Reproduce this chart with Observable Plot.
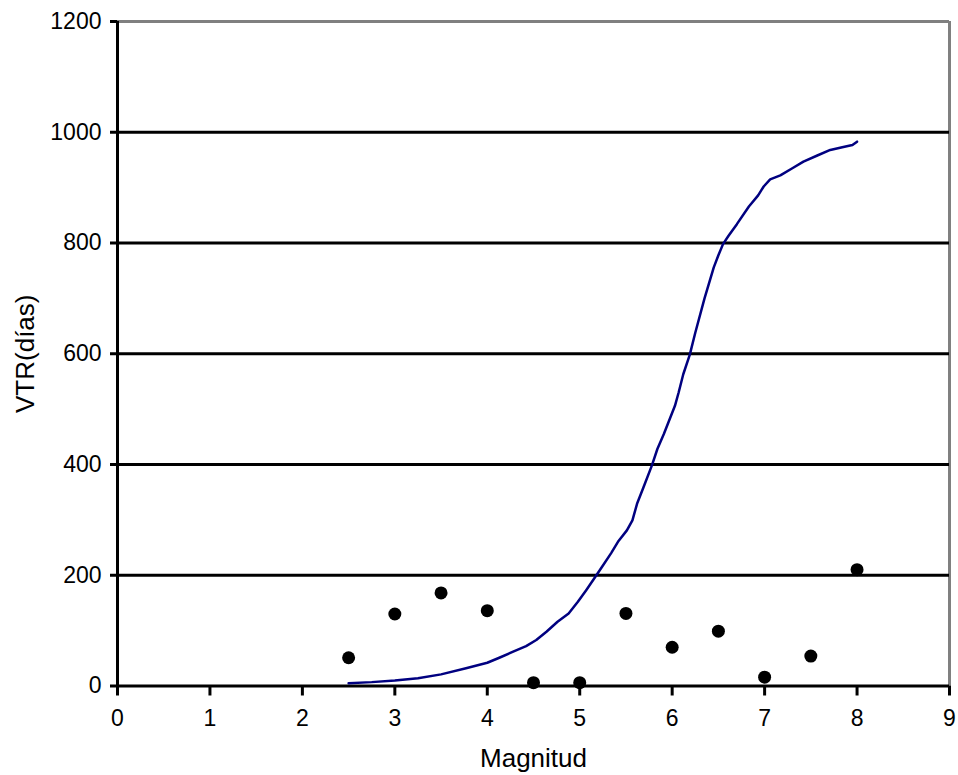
<!DOCTYPE html>
<html>
<head>
<meta charset="utf-8">
<script src="https://cdn.jsdelivr.net/npm/d3@7"></script>
<script src="https://cdn.jsdelivr.net/npm/@observablehq/plot@0.6"></script>
<style>
  html, body { margin: 0; padding: 0; background: white; }
</style>
</head>
<body>
<div id="chart"></div>
<script>
// Tick values
const xTicks = [0, 1, 2, 3, 4, 5, 6, 7, 8, 9];
const yTicks = [0, 200, 400, 600, 800, 1000, 1200];
const gridValues = [200, 400, 600, 800, 1000];

// Observed data (dots)
const pointX = [2.5, 3, 3.5, 4, 4.5, 5, 5.5, 6, 6.5, 7, 7.5, 8];
const pointY = [51, 130, 168, 136, 6, 6, 131, 70, 99, 16, 54, 210];

// Fitted curve
const curveX = [2.5, 2.75, 3.0, 3.25, 3.5, 3.77, 4.0, 4.13, 4.28, 4.42, 4.53, 4.64, 4.76, 4.88, 4.98, 5.07, 5.16, 5.24, 5.34, 5.42, 5.51, 5.57, 5.62, 5.69, 5.78, 5.84, 5.91, 5.98, 6.03, 6.07, 6.12, 6.19, 6.25, 6.35, 6.45, 6.5, 6.55, 6.61, 6.7, 6.83, 6.93, 6.99, 7.06, 7.17, 7.3, 7.42, 7.57, 7.71, 7.84, 7.95, 8.0];
const curveY = [5, 7, 10, 14, 21, 32, 42, 51, 62, 72, 83, 98, 116, 131, 152, 173, 195, 215, 240, 262, 281, 299, 329, 359, 398, 428, 455, 485, 506, 530, 563, 598, 638, 700, 756, 778, 798, 813, 834, 866, 886, 902, 915, 922, 935, 947, 958, 968, 973, 977, 983];

const points = pointX.map((x, i) => ({x, y: pointY[i]}));
const curve = curveX.map((x, i) => ({x, y: curveY[i]}));

const tickFont = "'Liberation Sans Narrow', 'Liberation Sans', Arial, sans-serif";

const chart = Plot.plot({
  width: 958,
  height: 775,
  marginLeft: 117,
  marginRight: 9,
  marginTop: 21,
  marginBottom: 89.5,
  style: { fontFamily: "Liberation Sans, Arial, sans-serif", fontSize: "20px", background: "white", color: "black", overflow: "visible" },
  x: { domain: [0, 9] },
  y: { domain: [0, 1200] },
  marks: [
    Plot.ruleY([1200], { stroke: "#808080", strokeWidth: 3 }),
    Plot.ruleX([9], { stroke: "#808080", strokeWidth: 3 }),
    Plot.ruleY(gridValues, { stroke: "black", strokeWidth: 3 }),
    Plot.ruleY([0], { stroke: "black", strokeWidth: 3 }),
    Plot.ruleX([0], { stroke: "black", strokeWidth: 3 }),
    Plot.axisX({ ticks: xTicks, tickSize: 10, tickPadding: 14, strokeWidth: 3, label: null, fontSize: 23, fontFamily: tickFont, tickFormat: d => String(d) }),
    Plot.axisY({ ticks: yTicks, tickSize: 7, tickPadding: 9, strokeWidth: 3, label: null, fontSize: 23, fontFamily: tickFont, tickFormat: d => String(d) }),
    Plot.line(curve, { x: "x", y: "y", stroke: "#000080", strokeWidth: 2.5, curve: "linear" }),
    Plot.dot(points, { x: "x", y: "y", r: 6.5, fill: "black", stroke: "none" }),
    Plot.text(["Magnitud"], { frameAnchor: "bottom", dy: 81, fontSize: 26, fill: "black" }),
    Plot.text(["VTR(días)"], { frameAnchor: "left", dx: -92, rotate: -90, textAnchor: "middle", fontSize: 26, fill: "black" })
  ]
});
document.getElementById("chart").appendChild(chart);
</script>
</body>
</html>
